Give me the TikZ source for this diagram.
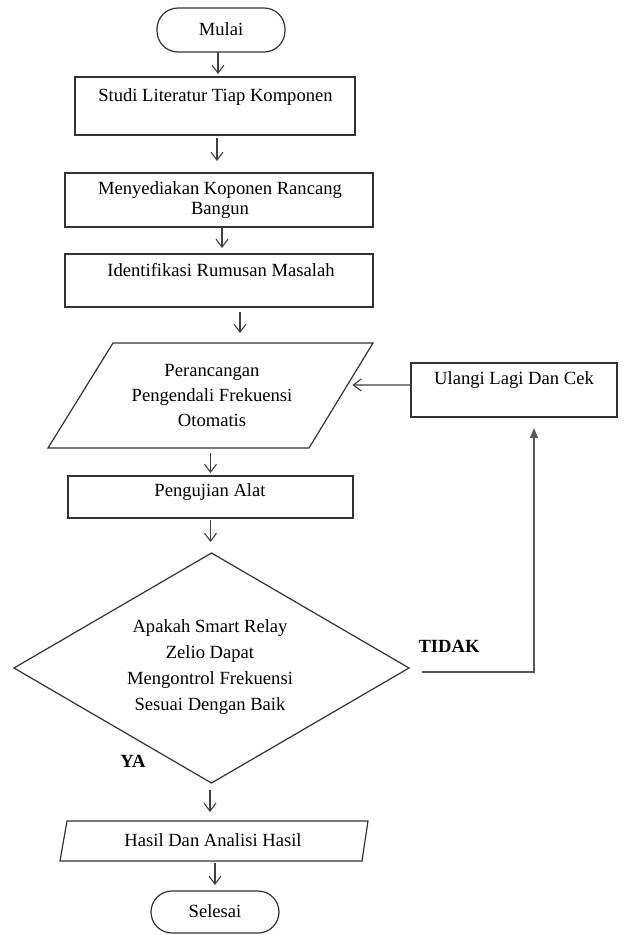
\documentclass[tikz,border=0pt]{standalone}
\usepackage{fontspec}
\setmainfont{Liberation Serif}
\usetikzlibrary{shapes.geometric,arrows.meta,calc}
\begin{document}
\begin{tikzpicture}[x=1pt,y=-1pt,
  shp/.style={draw=black!80,line width=1.2pt},
  boxn/.style={shp,rectangle,inner sep=0pt,outer sep=0pt},
  term/.style={boxn,rounded corners=21pt},
  txt/.style={font=\fontsize{18.6}{25}\selectfont,align=center,inner sep=0pt},
  one/.style={txt,text height=13pt,text depth=4pt},
  lbl/.style={one,font=\fontsize{18.6}{25}\selectfont\bfseries},
  arr/.style={draw=black!75,line width=1.1pt,-{Straight Barb[length=8pt,width=12pt]}},
  arrf/.style={draw=black!65,line width=1.3pt,-{Triangle[length=10pt,width=8pt]}}
]
\useasboundingbox (0,0) rectangle (624,935);

% shapes
\node[term,minimum width=128pt,minimum height=44pt] (mulai) at (221,30) {};
\node[boxn,minimum width=280pt,minimum height=58pt] (studi) at (215,106) {};
\node[boxn,minimum width=308pt,minimum height=54pt] (sedia) at (219,200) {};
\node[boxn,minimum width=308pt,minimum height=53pt] (ident) at (219,280.5) {};
\coordinate (pTL) at (113,343);
\coordinate (pTR) at (373,343);
\coordinate (pBR) at (309,448);
\coordinate (pBL) at (48,448);
\draw[shp] (pTL) -- (pTR) -- (pBR) -- (pBL) -- cycle;
\coordinate (ptop) at ($(pTL)!0.5!(pTR)$);
\coordinate (pR) at ($(pTR)!0.4!(pBR)$);
\node[boxn,minimum width=206pt,minimum height=54pt] (ulang) at (514,390) {};
\node[boxn,minimum width=285pt,minimum height=42pt] (uji) at (210.5,497) {};
\node[shp,diamond,inner sep=0pt,outer sep=0pt,minimum width=395pt,minimum height=230pt] (dia) at (211.5,668) {};
\coordinate (hTL) at (67,821);
\coordinate (hTR) at (368,821);
\coordinate (hBR) at (362,861);
\coordinate (hBL) at (60,861);
\draw[shp] (hTL) -- (hTR) -- (hBR) -- (hBL) -- cycle;
\node[term,minimum width=128pt,minimum height=42pt] (selesai) at (215,912) {};

% texts
\node[one] (tmulai) at (221,31) {Mulai};
\node[one] (tstudi) at (215.5,97) {Studi Literatur Tiap Komponen};
\node[txt,font=\fontsize{18.6}{20}\selectfont] (tsedia) at (220,200) {Menyediakan Koponen Rancang\\Bangun};
\node[one] (tident) at (221,272) {Identifikasi Rumusan Masalah};
\node[txt] (tpara) at (212,395) {Perancangan\\Pengendali Frekuensi\\Otomatis};
\node[one] (tulang) at (514,380) {Ulangi Lagi Dan Cek};
\node[one] (tuji) at (210,492) {Pengujian Alat};
\node[txt,font=\fontsize{18.6}{25.7}\selectfont] (tdia) at (210,667) {Apakah Smart Relay\\Zelio Dapat\\Mengontrol Frekuensi\\Sesuai Dengan Baik};
\node[lbl] (ya) at (133,763) {YA};
\node[lbl] (tidak) at (449,648) {TIDAK};
\node[one] (thasil) at (213,842) {Hasil Dan Analisi Hasil};
\node[one] (tsel) at (215,913) {Selesai};

% connectors
\draw[arr,shorten >=3pt] ([xshift=-3pt]mulai.south) -- ([xshift=-3pt]mulai.south |- studi.north);
\draw[arr,shorten <=3pt,shorten >=12pt] ([xshift=2pt]studi.south) -- ([xshift=2pt]studi.south |- sedia.north);
\draw[arr,shorten >=6pt] ([xshift=3pt]sedia.south) -- ([xshift=3pt]sedia.south |- ident.north);
\draw[arr,shorten <=5pt,shorten >=10pt] ([xshift=-3pt]ident.south -| ptop) -- ([xshift=-3pt]ptop);
\draw[arr,shorten <=5pt,shorten >=3pt] (uji.north |- pBL) -- (uji.north);
\draw[arr,shorten <=2pt,shorten >=11pt] (uji.south) -- (uji.south |- dia.north);
\draw[arr,shorten <=7pt,shorten >=9pt] ([xshift=-1.5pt]dia.south) -- ([xshift=-1.5pt]dia.south |- hTL);
\draw[arr,shorten <=2pt,shorten >=6pt] (selesai.north |- hBL) -- (selesai.north);
\draw[arr,shorten >=5pt] ([yshift=5pt]ulang.west) -- (pR);
\draw[arrf,shorten >=11pt] ([xshift=13pt,yshift=-4pt]dia.east) -| ([xshift=20pt]ulang.south);
\end{tikzpicture}
\end{document}
